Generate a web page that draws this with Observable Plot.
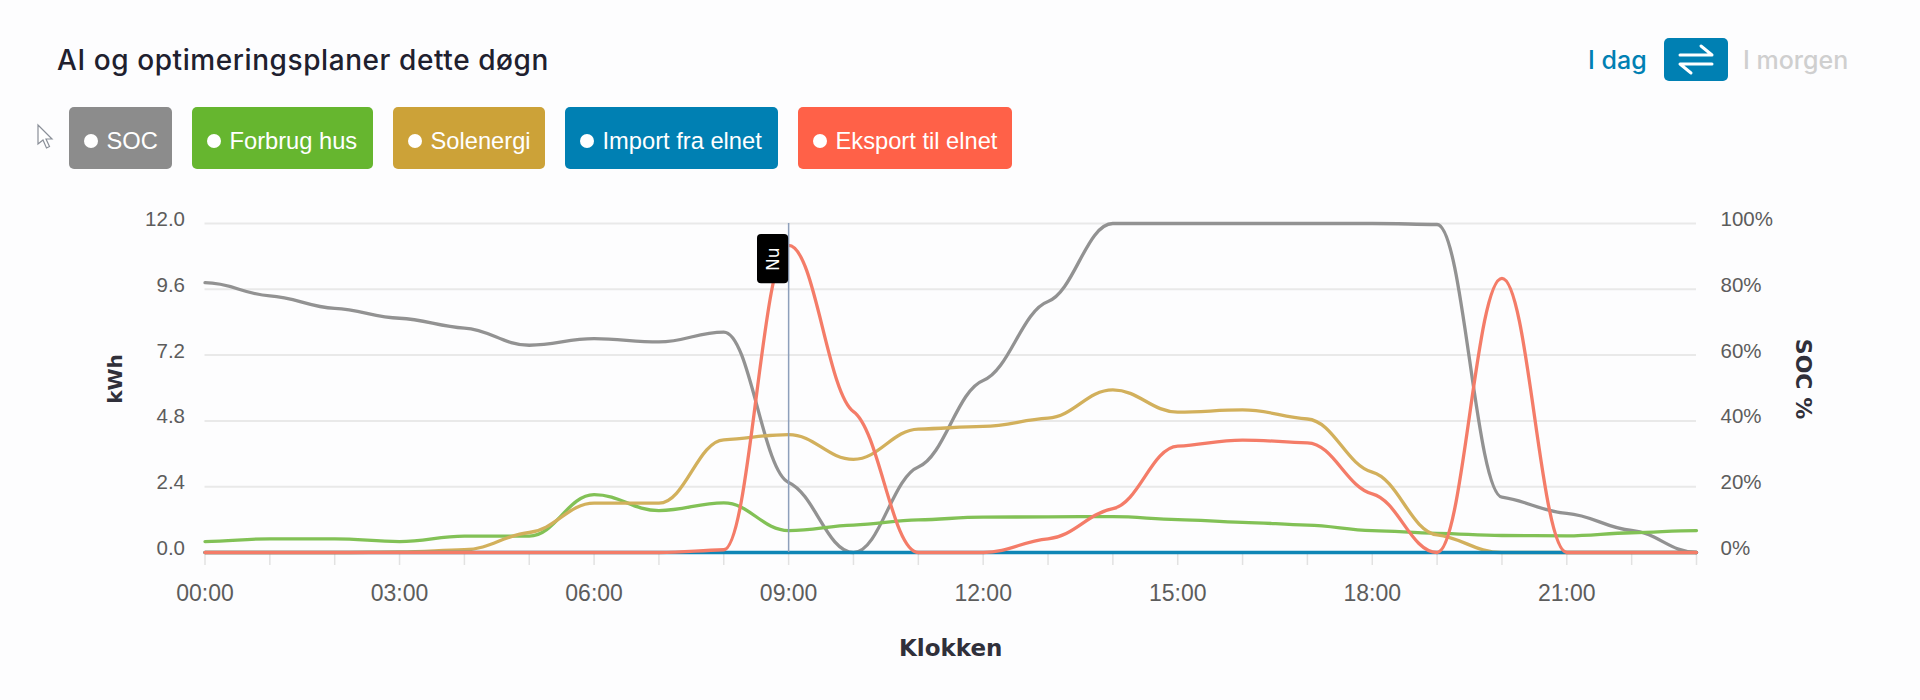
<!DOCTYPE html>
<html lang="da">
<head>
<meta charset="utf-8">
<title>AI og optimeringsplaner dette døgn</title>
<script src="https://cdn.jsdelivr.net/npm/d3@7"></script>
<script src="https://cdn.jsdelivr.net/npm/@observablehq/plot@0.6"></script>
<style>
  html, body { margin: 0; padding: 0; background: #fdfdfe; width: 1920px; overflow: hidden; }
  #head { position: relative; height: 190px; width: 1920px; }
  #title { position: absolute; left: 57px; top: 43px; font: 500 28px/34px Inter, sans-serif; color: #20202e; letter-spacing: 0.58px; white-space: nowrap; }
  .day { position: absolute; top: 43px; font: 500 25px/34px Inter, sans-serif; white-space: nowrap; }
  #swap { position: absolute; left: 1664px; top: 38px; width: 64px; height: 43px; border-radius: 5px; background: #0080b3; }
  #cursor { position: absolute; left: 36px; top: 123px; }
  .btn { position: absolute; top: 107px; height: 62px; border-radius: 5px; color: #fff; font: 23.7px/62px "Liberation Sans", Arial, sans-serif; white-space: nowrap; box-sizing: border-box; }
  .btn i { position: absolute; top: 27px; width: 14px; height: 14px; border-radius: 50%; background: #fff; }
  .btn span { position: absolute; top: 3px; }
  #chart { display: block; position: relative; height: 510px; }
  #chart svg { display: block; background: transparent; }
</style>
</head>
<body>
<div id="head">
  <div id="title">AI og optimeringsplaner dette døgn</div>
  <div class="day" style="left:1588px;color:#0080b3">I dag</div>
  <div id="swap"><svg width="64" height="43" fill="none" stroke="#fff" stroke-width="3" stroke-linecap="round" stroke-linejoin="round"><path d="M16 17H48L37 8"/><path d="M48 26H16L27 35"/></svg></div>
  <div class="day" style="left:1743px;color:#cfcfcf">I morgen</div>
  <svg id="cursor" width="20" height="28"><path d="M2 2V21L7 17L10.5 25L13.5 23.5L10 16H16Z" fill="#fff" stroke="#8a8f98" stroke-width="1.2"/></svg>
  <div id="legend"></div>
</div>
<div id="chart"></div>
<script>
const hours = d3.range(0, 24);
const hourLabels = ["00:00","03:00","06:00","09:00","12:00","15:00","18:00","21:00"];
const kwhTicks = [0, 2.4, 4.8, 7.2, 9.6, 12];
const socTickLabels = ["0%","20%","40%","60%","80%","100%"];

const seriesNames = ["SOC","Forbrug hus","Solenergi","Import fra elnet","Eksport til elnet"];
const buttonColors = ["#8c8c8c","#66b62f","#cca238","#0080b3","#ff6148"];
const lineColors = ["#929292","#82c156","#d2b05c","#0f86b6","#f47c68"];

const socPercent = [82,78,74.2,71.2,68.2,63,65,64,67,21.3,0,26,52.3,76.3,100,100,100,100,100,99.7,16.8,11.9,6.7,0];
const forbrug = [0.40,0.50,0.50,0.40,0.60,0.60,2.11,1.53,1.81,0.80,1.00,1.19,1.29,1.30,1.31,1.20,1.10,1.00,0.80,0.70,0.62,0.61,0.72,0.80];
const solenergi = [0,0,0,0.02,0.10,0.73,1.80,1.80,4.11,4.30,3.40,4.50,4.60,4.90,5.93,5.12,5.20,4.87,2.93,0.64,0,0,0,0];
const importNet = [0,0,0,0,0,0,0,0,0,0,0,0,0,0,0,0,0,0,0,0,0,0,0,0];
const eksport = [0,0,0,0,0,0,0,0,0.10,11.2,5.14,0,0,0.50,1.60,3.88,4.10,4.00,2.14,0,10.0,0,0,0];
const seriesValues = [socPercent.map(v => v * 0.12), forbrug, solenergi, importNet, eksport];

const nowHour = 9;
const nowBox = [{x1: 8.52, x2: 9, y1: 9.8, y2: 11.6}];
const nowLabel = [{x: 8.76, y: 10.7, text: "Nu"}];

// Legend buttons
const btnLeft = [69,192,393,565,798], btnRight = [172,373,545,778,1012];
const legend = document.getElementById("legend");
seriesNames.forEach((name, i) => {
  const b = document.createElement("div");
  b.className = "btn";
  b.style.cssText = `left:${btnLeft[i]}px;width:${btnRight[i]-btnLeft[i]}px;background:${buttonColors[i]}`;
  b.innerHTML = `<i style="left:15px"></i><span style="left:37.5px">${name}</span>`;
  legend.appendChild(b);
});

// d3-style curve factory: a shape-preserving cubic whose tangents at each hour
// are damped, which gives the short shelves the source chart has at its hourly points.
const tangentDamping = 0.3;
const handleShare = 0.4;
function shelfCurve(context) {
  let xs, ys;
  return {
    lineStart() { xs = []; ys = []; },
    point(x, y) { xs.push(+x); ys.push(+y); },
    lineEnd() {
      const n = xs.length;
      if (!n) return;
      const s = i => (ys[i + 1] - ys[i]) / (xs[i + 1] - xs[i]);
      const m = xs.map((_, i) => {
        if (i === 0 || i === n - 1) return 0;
        const a = s(i - 1), b = s(i);
        return a * b <= 0 ? 0 : tangentDamping * 2 * a * b / (a + b);
      });
      context.moveTo(xs[0], ys[0]);
      for (let i = 0; i < n - 1; i++) {
        const h = (xs[i + 1] - xs[i]) * handleShare;
        context.bezierCurveTo(xs[i] + h, ys[i] + m[i] * h, xs[i + 1] - h, ys[i + 1] - m[i + 1] * h, xs[i + 1], ys[i + 1]);
      }
    },
    areaStart() {}, areaEnd() {}
  };
}

const lineMarks = seriesNames.map((name, i) =>
  Plot.line(hours, {
    x: d => d,
    y: d => seriesValues[i][d],
    stroke: lineColors[i],
    strokeWidth: 3.3,
    curve: shelfCurve
  })
);

const sans = "'Liberation Sans', Arial, sans-serif";
const dejavu = "'DejaVu Sans', sans-serif";
const chart = Plot.plot({
  width: 1920,
  height: 510,
  marginLeft: 204.5,
  marginRight: 224,
  marginTop: 33,
  marginBottom: 148,
  style: {background: "transparent", fontFamily: sans},
  x: {type: "linear", domain: [0, 23]},
  y: {domain: [0, 12]},
  marks: [
    Plot.ruleY(kwhTicks, {stroke: "#e9e9e9", strokeWidth: 2}),
    Plot.axisX({
      ticks: hours, tickSize: 13, tickPadding: 19, stroke: "#e2e2e2", strokeWidth: 1.5,
      tickFormat: d => d % 3 === 0 ? hourLabels[d / 3] : "",
      fill: "#5c5c5c", fontSize: 23, label: null
    }),
    Plot.axisY({
      ticks: kwhTicks, tickSize: 0, tickPadding: 20, tickFormat: d3.format(".1f"),
      fill: "#5c5c5c", fontSize: 20.5, label: null, dy: -4
    }),
    Plot.axisY({
      anchor: "right", ticks: kwhTicks, tickSize: 0, tickPadding: 24,
      tickFormat: (d, i) => socTickLabels[i],
      fill: "#5c5c5c", fontSize: 20.5, label: null, dy: -4
    }),
    ...lineMarks,
    Plot.ruleX([nowHour], {y1: 0, y2: 12, stroke: "#8d9fbb", strokeWidth: 1.5}),
    Plot.rect(nowBox, {x1: "x1", x2: "x2", y1: "y1", y2: "y2", fill: "#000", rx: 4}),
    Plot.text(nowLabel, {x: "x", y: "y", text: "text", rotate: -90, fill: "#fff", fontSize: 17, fontFamily: dejavu}),
    Plot.text(["kWh"], {frameAnchor: "left", textAnchor: "middle", dx: -89.5, dy: -9, rotate: -90, fontSize: 20, fontWeight: 700, fontFamily: dejavu, fill: "#30303a"}),
    Plot.text(["SOC %"], {frameAnchor: "right", textAnchor: "middle", dx: 107, dy: -9, rotate: 90, fontSize: 22, fontWeight: 700, fontFamily: dejavu, fill: "#30303a"}),
    Plot.text(["Klokken"], {frameAnchor: "bottom", dy: 96, lineAnchor: "middle", fontSize: 23, fontWeight: 700, fontFamily: dejavu, fill: "#30303a"})
  ]
});
document.getElementById("chart").appendChild(chart);
</script>
</body>
</html>
